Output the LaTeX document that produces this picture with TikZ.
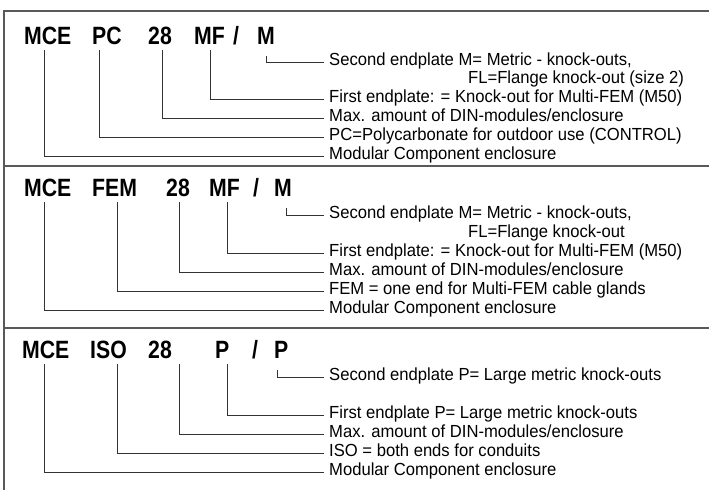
\documentclass[tikz,border=0pt]{standalone}
\usepackage{fontspec}
\newfontfamily\tfont{Liberation Sans}[FakeStretch=0.85]
\newfontfamily\bfont{Liberation Sans}[FakeStretch=0.95]
\begin{document}
\begin{tikzpicture}[x=1pt,y=-1pt,
  title/.style={anchor=base west, inner sep=0pt, font=\tfont\bfseries\fontsize{25}{25}\selectfont},
  desc/.style={anchor=base west, inner sep=0pt, font=\bfont\fontsize{17.5}{17.5}\selectfont},
  conn/.style={draw=black!80, line width=0.9pt},
  frame/.style={draw=black!65, line width=1.3pt}]
\useasboundingbox (0,0) rectangle (709,490);
% frame
\coordinate (fa) at (4,11);
\coordinate (fb) at (709,11);
\coordinate (fc) at (4,166);
\coordinate (fd) at (709,166);
\coordinate (fe) at (4,328);
\coordinate (ff) at (709,328);
\coordinate (fg) at (4,490);
\draw[frame] (fb) -- (fa) -- (fg);
\draw[frame] (fc) -- (fd);
\draw[frame] (fe) -- (ff);

% ---------- panel 1 ----------
\node[title] (a1) at (24,44) {MCE};
\node[title] (a2) at (92,44) {PC};
\node[title] (a3) at (148,44) {28};
\node[title] (a4) at (194,44) {MF};
\node[title] (a5) at (233,44) {/};
\node[title] (a6) at (257,44) {M};
\node[desc] (ad1) at (329,65) {Second endplate M= Metric - knock-outs,};
\node[desc] (ad2) at (468,83) {FL=Flange knock-out (size 2)};
\node[desc] (ad3) at (329,102) {First endplate: = Knock-out for Multi-FEM (M50)};
\node[desc] (ad4) at (329,121) {Max. amount of DIN-modules/enclosure};
\node[desc] (ad5) at (329,140) {PC=Polycarbonate for outdoor use (CONTROL)};
\node[desc] (ad6) at (329,159) {Modular Component enclosure};
\coordinate (ac1) at (44,50);
\coordinate (ac2) at (99,50);
\coordinate (ac3) at (162,50);
\coordinate (ac4) at (210,50);
\coordinate (ac5) at (266,56);
\draw[conn] (ac5) |- ([shift={(-5pt,3pt)}]ad1.base west);
\draw[conn] (ac4) |- ([shift={(-5pt,3pt)}]ad3.base west);
\draw[conn] (ac3) |- ([shift={(-5pt,3pt)}]ad4.base west);
\draw[conn] (ac2) |- ([shift={(-5pt,3pt)}]ad5.base west);
\draw[conn] (ac1) |- ([shift={(-5pt,3pt)}]ad6.base west);

% ---------- panel 2 ----------
\node[title] (b1) at (24,196) {MCE};
\node[title] (b2) at (92,196) {FEM};
\node[title] (b3) at (166,196) {28};
\node[title] (b4) at (209,196) {MF};
\node[title] (b5) at (253,196) {/};
\node[title] (b6) at (274,196) {M};
\node[desc] (bd1) at (329,218) {Second endplate M= Metric - knock-outs,};
\node[desc] (bd2) at (468,237) {FL=Flange knock-out};
\node[desc] (bd3) at (329,256) {First endplate: = Knock-out for Multi-FEM (M50)};
\node[desc] (bd4) at (329,275) {Max. amount of DIN-modules/enclosure};
\node[desc] (bd5) at (329,294) {FEM = one end for Multi-FEM cable glands};
\node[desc] (bd6) at (329,313) {Modular Component enclosure};
\coordinate (bc1) at (44,202);
\coordinate (bc2) at (117,202);
\coordinate (bc3) at (179,202);
\coordinate (bc4) at (227,202);
\coordinate (bc5) at (286,208);
\draw[conn] (bc5) |- ([shift={(-5pt,3pt)}]bd1.base west);
\draw[conn] (bc4) |- ([shift={(-5pt,3pt)}]bd3.base west);
\draw[conn] (bc3) |- ([shift={(-5pt,3pt)}]bd4.base west);
\draw[conn] (bc2) |- ([shift={(-5pt,3pt)}]bd5.base west);
\draw[conn] (bc1) |- ([shift={(-5pt,3pt)}]bd6.base west);

% ---------- panel 3 ----------
\node[title] (c1) at (22,358) {MCE};
\node[title] (c2) at (90,358) {ISO};
\node[title] (c3) at (148,358) {28};
\node[title] (c4) at (215,358) {P};
\node[title] (c5) at (252,358) {/};
\node[title] (c6) at (274,358) {P};
\node[desc] (cd1) at (329,380) {Second endplate P= Large metric knock-outs};
\node[desc] (cd3) at (329,418) {First endplate P= Large metric knock-outs};
\node[desc] (cd4) at (329,437) {Max. amount of DIN-modules/enclosure};
\node[desc] (cd5) at (329,456) {ISO = both ends for conduits};
\node[desc] (cd6) at (329,475) {Modular Component enclosure};
\coordinate (cc1) at (44,364);
\coordinate (cc2) at (117,364);
\coordinate (cc3) at (179,364);
\coordinate (cc4) at (227,364);
\coordinate (cc5) at (277,370);
\draw[conn] (cc5) |- ([shift={(-5pt,3pt)}]cd1.base west);
\draw[conn] (cc4) |- ([shift={(-5pt,3pt)}]cd3.base west);
\draw[conn] (cc3) |- ([shift={(-5pt,3pt)}]cd4.base west);
\draw[conn] (cc2) |- ([shift={(-5pt,3pt)}]cd5.base west);
\draw[conn] (cc1) |- ([shift={(-5pt,3pt)}]cd6.base west);
\end{tikzpicture}
\end{document}
